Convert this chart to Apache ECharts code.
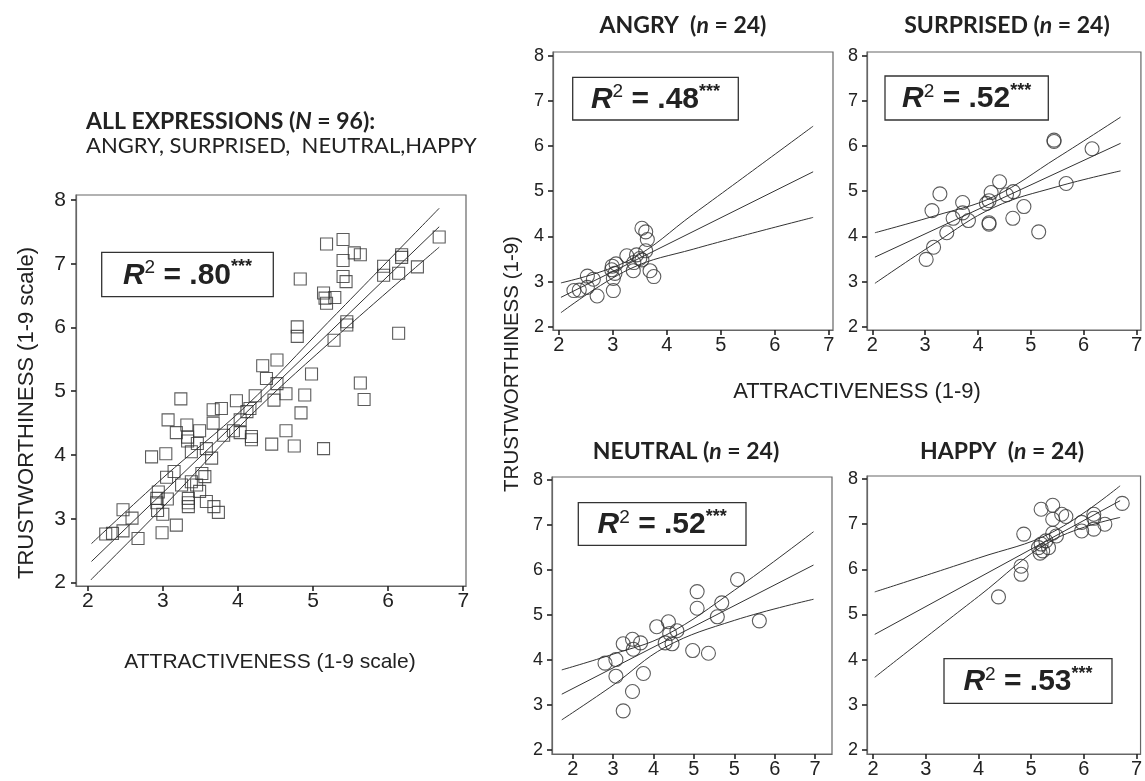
<!DOCTYPE html>
<html>
<head>
<meta charset="utf-8">
<script src="https://cdn.jsdelivr.net/npm/echarts@6/dist/echarts.min.js"></script>
<style>
  html, body { margin: 0; padding: 0; background: #fff; }
  #chart { width: 1145px; height: 781px; }
</style>
</head>
<body>
<div id="chart"></div>
<script>
// ---- data: [attractiveness, trustworthiness] ----
var allPoints = [
  [5.18,7.31],[5.40,7.38],[5.55,7.17],[5.63,7.14],[5.40,7.05],[4.83,6.76],[5.40,6.80],[5.44,6.72],
  [5.14,6.54],[5.16,6.46],[5.29,6.47],[5.18,6.38],[4.79,6.01],[4.79,5.86],[5.45,6.09],[5.45,6.04],
  [5.28,5.80],[5.94,6.96],[6.18,7.14],[6.18,7.10],[5.94,6.82],[6.14,6.85],[6.39,6.95],[6.68,7.42],
  [6.14,5.91],[5.63,5.13],[5.68,4.87],[4.98,5.27],[4.52,5.49],[4.33,5.40],[4.38,5.20],[4.52,5.12],
  [4.64,4.96],[4.89,4.94],[4.48,4.86],[4.84,4.66],[4.64,4.38],[4.75,4.14],[5.14,4.10],[4.45,4.17],
  [4.18,4.29],[4.18,4.24],[4.23,4.93],[4.16,4.73],[4.12,4.68],[3.98,4.85],[4.03,4.55],[3.78,4.73],
  [3.67,4.71],[3.67,4.50],[3.94,4.38],[3.81,4.31],[3.24,4.88],[3.07,4.55],[3.32,4.47],[3.49,4.38],
  [3.18,4.35],[3.33,4.28],[3.33,4.22],[3.46,4.18],[3.58,4.10],[3.38,4.05],[3.65,3.95],[2.85,3.97],
  [3.04,4.02],[3.15,3.74],[3.05,3.65],[3.52,3.71],[3.56,3.66],[3.25,3.53],[3.45,3.53],[2.94,3.42],
  [2.92,3.32],[3.34,3.32],[3.34,3.25],[3.58,3.27],[2.47,3.14],[3.68,3.19],[4.03,4.35],[3.38,3.58],
  [3.49,3.43],[2.92,3.25],[3.06,3.31],[3.34,3.19],[3.74,3.10],[3.00,3.07],[2.93,3.13],[2.59,3.01],
  [2.47,2.81],[2.24,2.76],[2.33,2.77],[2.67,2.69],[3.18,2.90],[2.99,2.78]
];
var allFit = [[2.05,2.33],[6.68,7.58]];
var allUpper = [[2.05,2.61],[3.0,3.64],[4.1,4.76],[5.2,6.08],[6.68,7.87]];
var allLower = [[2.04,2.04],[3.0,3.18],[4.1,4.54],[5.2,5.74],[6.68,7.26]];

var angryPoints = [
  [2.28,2.80],[2.38,2.81],[2.53,2.87],[2.53,3.12],[2.64,3.05],[2.71,2.68],[3.01,2.80],[2.98,3.26],
  [2.99,3.34],[3.06,3.39],[3.01,3.07],[3.04,3.18],[3.26,3.57],[3.39,3.42],[3.38,3.24],[3.44,3.59],
  [3.54,3.48],[3.50,3.51],[3.54,4.18],[3.61,4.10],[3.64,3.93],[3.61,3.68],[3.69,3.24],[3.76,3.11]
];
var angryFit = [[2.04,2.65],[6.71,5.43]];
var angryUpper = [[2.04,2.97],[3.3,3.47],[4.5,4.50],[6.71,6.44]];
var angryLower = [[2.04,2.31],[3.3,3.27],[4.5,3.72],[6.71,4.42]];

var surprisedPoints = [
  [3.02,3.49],[3.16,3.76],[3.13,4.57],[3.28,4.94],[3.41,4.08],[3.53,4.40],[3.71,4.75],[3.71,4.52],
  [3.82,4.35],[4.16,4.73],[4.21,4.79],[4.25,4.97],[4.21,4.30],[4.21,4.27],[4.41,5.21],[4.54,4.92],
  [4.67,4.99],[4.66,4.40],[4.87,4.66],[5.15,4.10],[5.44,6.13],[5.44,6.10],[5.67,5.17],[6.16,5.94]
];
var surprisedFit = [[2.05,3.54],[6.70,6.06]];
var surprisedUpper = [[2.05,4.08],[3.2,4.46],[4.3,4.88],[5.5,5.74],[6.70,6.64]];
var surprisedLower = [[2.05,2.96],[3.2,3.86],[4.3,4.64],[5.5,5.10],[6.70,5.45]];

// neutral panel: x read in tick units (its tick labels run 2,3,4,5,5,6,7)
var neutralPoints = [
  [2.80,3.93],[3.07,4.01],[3.07,3.64],[3.25,4.36],[3.25,2.87],[3.48,3.30],[3.48,4.46],[3.50,4.24],
  [3.68,4.38],[3.75,3.70],[4.08,4.74],[4.37,4.85],[4.29,4.38],[4.40,4.59],[4.46,4.36],[4.58,4.65],
  [4.97,4.21],[5.08,5.52],[5.08,5.15],[5.36,4.15],[5.58,4.96],[5.69,5.27],[6.08,5.79],[6.62,4.87]
];
var neutralFit = [[1.73,3.24],[7.96,6.11]];
var neutralUpper = [[1.73,3.78],[3.0,4.13],[4.3,4.55],[6.0,5.55],[7.96,6.85]];
var neutralLower = [[1.73,2.67],[3.0,3.44],[4.3,4.29],[6.0,4.88],[7.96,5.35]];

var happyPoints = [
  [4.38,5.39],[4.81,6.07],[4.81,5.89],[4.86,6.78],[5.19,7.33],[5.41,7.42],[5.41,7.11],[5.58,7.22],
  [5.66,7.17],[5.41,6.80],[5.48,6.74],[5.19,6.56],[5.14,6.48],[5.22,6.41],[5.17,6.36],[5.33,6.48],
  [5.28,6.63],[5.96,7.04],[5.96,6.85],[6.19,7.22],[6.19,7.13],[6.19,6.89],[6.40,7.00],[6.73,7.46]
];
var happyFit = [[2.03,4.56],[6.69,7.52]];
var happyUpper = [[2.03,5.50],[4.0,6.25],[5.4,6.82],[6.69,7.85]];
var happyLower = [[2.03,3.61],[4.0,5.40],[5.4,6.64],[6.69,7.15]];

var xTicks = [2, 3, 4, 5, 6, 7];
var yTicks = [2, 3, 4, 5, 6, 7, 8];
var neutralXTicks = [2, 3, 4, 5, 6, 7, 8];
var neutralXLabels = ['2', '3', '4', '5', '5', '6', '7'];
var r2Values = ['.80', '.48', '.52', '.52', '.53'];

// ---- layout ----
var INK = '#222';
var panels = [
  {grid: {left: 76, top: 195, width: 390, height: 391}, x: [1.844, 7.037], y: [1.945, 8.078],
    xFont: 21, yFont: 21, yMargin: 10,
    points: allPoints, fit: allFit, upper: allUpper, lower: allLower, symbol: 'rect', size: 12},
  {grid: {left: 553, top: 52, width: 280, height: 278}, x: [1.893, 7.078], y: [1.927, 8.082],
    xFont: 20, yFont: 18, yMargin: 9,
    points: angryPoints, fit: angryFit, upper: angryUpper, lower: angryLower, symbol: 'circle', size: 14},
  {grid: {left: 867, top: 52, width: 280, height: 278}, x: [1.9, 7.085], y: [1.927, 8.082],
    xFont: 20, yFont: 18, yMargin: 9,
    points: surprisedPoints, fit: surprisedFit, upper: surprisedUpper, lower: surprisedLower, symbol: 'circle', size: 14},
  {grid: {left: 552, top: 477, width: 280, height: 277}, x: [1.488, 8.418], y: [1.911, 8.067],
    xFont: 20, yFont: 18, yMargin: 9,
    points: neutralPoints, fit: neutralFit, upper: neutralUpper, lower: neutralLower, symbol: 'circle', size: 14,
    xTicks: neutralXTicks, xLabels: neutralXLabels},
  {grid: {left: 867, top: 476, width: 280, height: 278}, x: [1.883, 7.078], y: [1.911, 8.067],
    xFont: 20, yFont: 18, yMargin: 9,
    points: happyPoints, fit: happyFit, upper: happyUpper, lower: happyLower, symbol: 'circle', size: 14}
];
var r2Boxes = [
  [101.7, 252.3, 171.6, 44.4],
  [572.7, 77.3, 165.6, 42.7],
  [885, 76, 163.3, 44],
  [578.3, 502.7, 167.7, 42.6],
  [944, 658.7, 168, 44.6]
];

function makeAxis(i, range, ticks, labels, size, margin) {
  return {
    type: 'value', gridIndex: i, min: range[0], max: range[1],
    axisLine: {show: true, lineStyle: {color: '#666', width: 1.2}},
    axisTick: {show: true, inside: false, length: 5, customValues: ticks,
      lineStyle: {color: INK, width: 1.6}},
    axisLabel: {customValues: ticks, margin: margin, color: INK,
      fontFamily: 'Liberation Sans', fontSize: size,
      formatter: function (v) {
        var k = ticks.indexOf(v);
        return labels ? labels[k] : String(v);
      }},
    splitLine: {show: false}
  };
}

var grids = [], xAxes = [], yAxes = [], series = [];
panels.forEach(function (p, i) {
  grids.push(Object.assign({show: true, borderColor: '#666', borderWidth: 1.2,
    backgroundColor: '#fff'}, p.grid));
  xAxes.push(makeAxis(i, p.x, p.xTicks || xTicks, p.xLabels, p.xFont, 5));
  yAxes.push(makeAxis(i, p.y, yTicks, null, p.yFont, p.yMargin));
  [p.upper, p.fit, p.lower].forEach(function (d, k) {
    series.push({type: 'line', xAxisIndex: i, yAxisIndex: i, data: d, symbol: 'none',
      smooth: k === 1 ? false : 0.4, silent: true, z: 2,
      lineStyle: {color: '#333', width: 1}});
  });
  series.push({type: 'scatter', xAxisIndex: i, yAxisIndex: i, data: p.points,
    symbol: p.symbol, symbolSize: p.size, silent: true, z: 3,
    itemStyle: {color: 'rgba(255,255,255,0)', borderColor: '#333', borderWidth: 1.1}});
});

function text(str, x, y, font, rot, rich) {
  return {type: 'text', x: x, y: y, rotation: rot || 0, silent: true, z: 10,
    style: {text: str, font: font, fill: INK, rich: rich,
      align: 'center', verticalAlign: 'middle', textAlign: 'center', textVerticalAlign: 'middle'}};
}

var titleRich = {
  b: {fontFamily: 'Lato', fontWeight: 'bold', fontSize: 23, fill: INK, color: INK},
  i: {fontFamily: 'Lato', fontWeight: 'bold', fontStyle: 'italic', fontSize: 23, fill: INK, color: INK},
  n: {fontFamily: 'Lato', fontSize: 22, fill: INK, color: INK}
};
var r2Rich = {
  r: {fontFamily: 'Liberation Sans', fontWeight: 'bold', fontStyle: 'italic', fontSize: 30, lineHeight: 34},
  s: {fontFamily: 'Liberation Sans', fontSize: 19, lineHeight: 34, verticalAlign: 'top'},
  m: {fontFamily: 'Liberation Sans', fontWeight: 'bold', fontSize: 30, lineHeight: 34},
  t: {fontFamily: 'Liberation Sans', fontWeight: 'bold', fontSize: 18, lineHeight: 34, verticalAlign: 'top'}
};

var graphics = [];
r2Boxes.forEach(function (b, k) {
  graphics.push({type: 'rect', silent: true, z: 9,
    shape: {x: b[0], y: b[1], width: b[2], height: b[3]},
    style: {fill: '#fff', stroke: '#333', lineWidth: 1.3}});
  graphics.push(text('{r|R}{s|2}{m| = ' + r2Values[k] + '}{t|***}',
    b[0] + b[2] / 2, b[1] + b[3] / 2 + 1, null, 0, r2Rich));
});

graphics.push(
  {type: 'text', x: 86, y: 122, silent: true,
    style: {text: '{b|ALL EXPRESSIONS (}{i|N}{b| = 96):}', rich: titleRich,
      verticalAlign: 'middle', textVerticalAlign: 'middle'}},
  {type: 'text', x: 86, y: 146, silent: true,
    style: {text: '{n|ANGRY, SURPRISED,  NEUTRAL,HAPPY}', rich: titleRich,
      verticalAlign: 'middle', textVerticalAlign: 'middle'}},
  text('{b|ANGRY  (}{i|n}{b| = 24)}', 683, 26, null, 0, titleRich),
  text('{b|SURPRISED (}{i|n}{b| = 24)}', 1007, 26, null, 0, titleRich),
  text('{b|NEUTRAL (}{i|n}{b| = 24)}', 686, 452, null, 0, titleRich),
  text('{b|HAPPY  (}{i|n}{b| = 24)}', 1002, 452, null, 0, titleRich),
  text('TRUSTWORTHINESS (1-9 scale)', 27, 413, '22px "Liberation Sans"', Math.PI / 2),
  text('ATTRACTIVENESS (1-9 scale)', 270, 662, '21px "Liberation Sans"', 0),
  text('ATTRACTIVENESS (1-9)', 857, 392, '22px "Liberation Sans"', 0),
  text('TRUSTWORTHINESS (1-9)', 512, 364, '20.5px "Liberation Sans"', Math.PI / 2)
);

var chart = echarts.init(document.getElementById('chart'));
chart.setOption({
  backgroundColor: '#fff',
  animation: false,
  grid: grids,
  xAxis: xAxes,
  yAxis: yAxes,
  series: series,
  graphic: {elements: graphics}
});
</script>
</body>
</html>
